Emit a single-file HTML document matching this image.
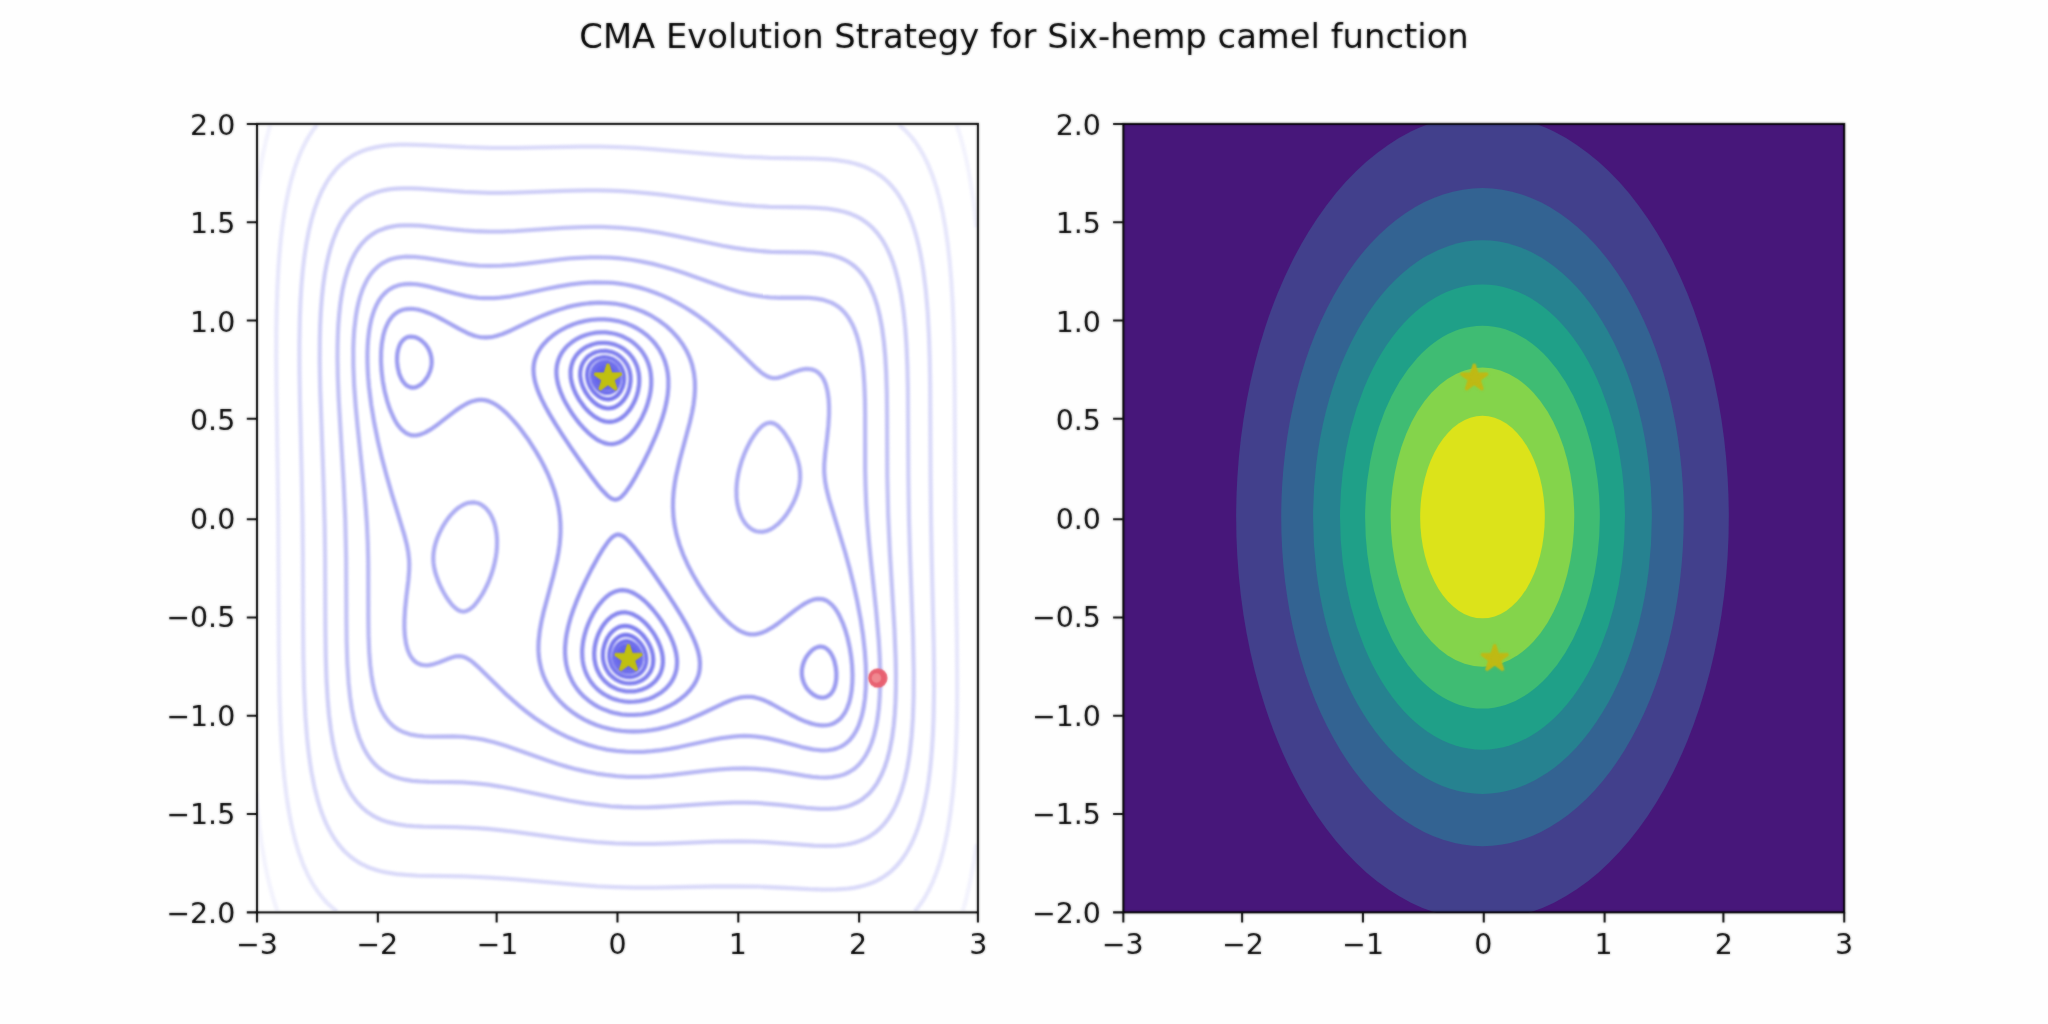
<!DOCTYPE html>
<html lang="en"><head><meta charset="utf-8"><title>CMA Evolution Strategy for Six-hemp camel function</title>
<style>html,body{margin:0;padding:0;background:#fefefe;overflow:hidden}body{width:2048px;height:1024px}</style></head>
<body>
<svg width="2048" height="1024" viewBox="0 0 720 360" style="display:block">
<defs>
<clipPath id="c1"><rect x="90" y="43.2" width="253.636" height="277.2"/></clipPath>
<clipPath id="c2"><rect x="394.920" y="43.560" width="253.440" height="277.200"/></clipPath>
<filter id="bl" filterUnits="userSpaceOnUse" x="0" y="0" width="720" height="360" color-interpolation-filters="sRGB"><feGaussianBlur stdDeviation="0.31"/></filter>
<filter id="mx" filterUnits="userSpaceOnUse" x="0" y="0" width="720" height="360" color-interpolation-filters="sRGB"><feGaussianBlur stdDeviation="0.31" result="b"/><feComposite in="SourceGraphic" in2="b" operator="arithmetic" k1="0" k2="0.5" k3="0.5" k4="0"/></filter>
</defs>
<rect width="720" height="360" fill="#fefefe"/>
<rect x="90" y="43.2" width="253.636" height="277.2" fill="#ffffff"/>
<g clip-path="url(#c1)"><g filter="url(#bl)" fill="none" stroke-width="1.5" stroke-linejoin="round">
<path stroke="#0909ea" d="M220.62 231.06 220.62 230.96ZM213.01 132.64 213.01 132.54Z"/>
<path stroke="#1212ea" d="M220.62 231.22 220.49 231.00 220.62 230.85 220.75 231.00ZM213.01 132.75 212.89 132.60 213.01 132.38 213.15 132.60Z"/>
<path stroke="#1b1bea" d="M220.62 231.38 220.39 231.00 220.62 230.74 220.84 231.00ZM213.01 132.86 212.79 132.60 213.01 132.22 213.25 132.60Z"/>
<path stroke="#2323ea" d="M220.62 231.53 220.29 231.00 220.62 230.63 220.94 231.00ZM213.01 132.97 212.70 132.60 213.01 132.07 213.35 132.60Z"/>
<path stroke="#2c2cea" d="M220.20 231.06 220.20 230.97 220.62 230.52 221.03 231.00 220.62 231.69ZM213.01 133.08 212.61 132.60 213.01 131.91 213.46 132.60Z"/>
<path stroke="#3434ea" d="M220.62 231.92 220.29 231.70 219.99 231.00 220.20 230.67 220.62 230.41 221.05 230.75 221.21 231.00 221.05 231.70ZM212.59 132.85 212.43 132.60 212.59 131.90 213.01 131.68 213.35 131.90 213.64 132.60 213.44 132.93 213.01 133.19Z"/>
<path stroke="#3d3dea" d="M220.20 231.94 219.99 231.70 219.81 231.00 220.20 230.36 220.62 230.27 221.05 230.45 221.40 231.00 221.33 231.70 221.05 232.02 220.62 232.15ZM213.01 133.33 212.59 133.15 212.23 132.60 212.31 131.90 212.59 131.58 213.01 131.45 213.44 131.66 213.65 131.90 213.83 132.60 213.44 133.24Z"/>
<path stroke="#4545eb" d="M219.78 231.85 219.67 231.70 219.52 231.00 219.80 230.31 220.20 229.98 220.62 229.91 221.05 230.08 221.47 230.56 221.68 231.00 221.65 231.70 221.47 231.99 221.05 232.34 220.62 232.39 220.20 232.28ZM212.59 133.52 212.17 133.04 211.95 132.60 211.99 131.90 212.17 131.61 212.59 131.26 213.01 131.21 213.44 131.32 213.96 131.90 214.11 132.60 213.84 133.29 213.44 133.62 213.01 133.69Z"/>
<path stroke="#4d4deb" d="M219.78 232.42 219.28 231.70 219.16 231.00 219.33 230.31 219.78 229.74 220.20 229.54 220.62 229.51 221.05 229.64 221.47 229.92 221.78 230.31 222.05 231.00 222.04 231.70 221.89 232.04 221.68 232.39 221.47 232.59 221.05 232.80 220.62 232.83 220.20 232.72ZM213.01 134.09 212.59 133.96 212.17 133.68 211.86 133.29 211.58 132.60 211.59 131.90 211.96 131.21 212.17 131.01 212.59 130.80 213.01 130.77 213.44 130.88 213.89 131.21 214.36 131.90 214.48 132.60 214.31 133.29 213.86 133.86 213.44 134.06Z"/>
<path stroke="#5555eb" d="M220.20 233.27 219.78 233.06 219.35 232.72 219.09 232.39 218.76 231.70 218.66 231.00 218.76 230.31 219.11 229.62 219.35 229.34 219.78 229.06 220.20 228.94 220.62 228.93 221.05 229.02 221.47 229.24 221.89 229.62 222.35 230.31 222.56 231.00 222.57 231.70 222.34 232.39 221.89 232.95 221.70 233.08 221.47 233.22 221.05 233.35 220.62 233.37ZM212.17 134.36 211.75 133.98 211.29 133.29 211.07 132.60 211.07 131.90 211.29 131.21 211.75 130.65 211.94 130.52 212.17 130.38 212.59 130.25 213.01 130.23 213.44 130.33 213.86 130.54 214.28 130.88 214.55 131.21 214.70 131.52 214.88 131.90 214.98 132.60 214.88 133.29 214.53 133.98 214.28 134.26 213.86 134.54 213.44 134.66 213.01 134.67 212.59 134.58Z"/>
<path stroke="#5e5eeb" d="M219.78 233.85 219.35 233.62 218.93 233.26 218.32 232.39 218.08 231.70 217.99 231.00 218.05 230.31 218.26 229.62 218.51 229.17 218.93 228.67 219.35 228.37 219.78 228.19 220.20 228.11 220.62 228.12 221.47 228.37 221.89 228.64 222.31 229.03 222.74 229.60 223.08 230.31 223.24 231.00 223.27 231.70 223.12 232.39 222.78 233.08 222.31 233.57 222.01 233.77 221.47 234.01 221.05 234.09 220.20 234.01ZM212.59 135.39 212.17 135.23 211.75 134.96 211.32 134.57 210.89 133.98 210.56 133.29 210.39 132.60 210.37 131.90 210.51 131.21 210.86 130.52 211.32 130.03 211.75 129.76 212.17 129.59 213.01 129.51 213.44 129.59 213.86 129.75 214.28 129.98 214.87 130.52 215.32 131.21 215.55 131.90 215.65 132.60 215.59 133.29 215.38 133.98 215.13 134.43 214.70 134.93 214.28 135.23 213.86 135.41 213.44 135.49 213.01 135.48Z"/>
<path stroke="#6666ec" d="M219.35 234.70 218.51 234.12 218.17 233.77 217.67 233.08 217.35 232.39 217.16 231.70 217.08 231.00 217.11 230.31 217.24 229.62 217.50 228.92 217.92 228.23 218.51 227.62 218.93 227.33 219.78 227.02 220.20 226.98 221.05 227.07 221.47 227.22 222.31 227.71 222.88 228.23 223.42 228.92 223.79 229.62 224.04 230.31 224.18 231.00 224.21 231.70 224.12 232.39 223.90 233.08 223.50 233.77 222.79 234.47 222.31 234.76 221.89 234.92 221.05 235.06 220.20 234.99ZM211.75 136.17 211.32 135.89 210.76 135.37 210.22 134.68 209.84 133.98 209.60 133.29 209.46 132.60 209.43 131.90 209.51 131.21 209.73 130.52 210.05 129.95 210.48 129.44 210.90 129.09 211.32 128.84 212.17 128.58 212.59 128.54 213.44 128.61 214.28 128.90 214.70 129.16 215.47 129.82 215.96 130.52 216.29 131.21 216.48 131.90 216.56 132.60 216.53 133.29 216.39 133.98 216.14 134.68 215.72 135.37 215.13 135.98 214.70 136.27 214.28 136.46 213.44 136.62 212.59 136.53Z"/>
<path stroke="#6f6fec" d="M218.93 235.87 218.09 235.36 217.24 234.56 216.67 233.77 216.33 233.08 216.08 232.39 215.93 231.70 215.86 231.00 215.95 229.62 216.11 228.92 216.36 228.23 216.72 227.54 217.22 226.84 217.66 226.40 218.51 225.82 219.35 225.51 220.20 225.42 221.05 225.52 221.89 225.81 222.74 226.31 223.58 227.05 224.43 228.14 224.85 228.92 225.14 229.62 225.33 230.31 225.45 231.00 225.49 231.70 225.44 232.39 225.30 233.08 225.05 233.77 224.66 234.47 224.00 235.21 223.16 235.81 222.31 236.17 221.89 236.27 221.05 236.35 219.78 236.19ZM213.01 138.15 212.17 137.96 211.32 137.56 210.48 136.95 210.05 136.55 209.21 135.46 208.78 134.68 208.50 133.98 208.18 132.60 208.15 131.90 208.19 131.21 208.34 130.52 208.59 129.82 208.98 129.13 209.63 128.39 210.48 127.79 211.32 127.43 212.17 127.27 213.44 127.32 214.28 127.55 215.13 127.96 215.97 128.60 216.48 129.13 216.82 129.60 217.31 130.52 217.55 131.21 217.78 132.60 217.77 133.29 217.53 134.68 217.28 135.37 216.92 136.06 216.40 136.78 215.55 137.53 214.70 137.97 213.86 138.16Z"/>
<path stroke="#7777ed" d="M220.20 237.97 218.93 237.66 217.66 237.05 216.82 236.44 215.97 235.59 215.20 234.47 214.85 233.77 214.40 232.39 214.21 231.00 214.24 229.62 214.50 228.23 215.01 226.84 215.38 226.15 215.85 225.46 216.82 224.43 217.66 223.84 218.51 223.46 219.78 223.22 221.05 223.33 222.31 223.77 223.58 224.56 224.85 225.77 225.66 226.84 226.08 227.54 226.71 228.92 227.09 230.31 227.24 231.70 227.13 233.08 226.72 234.47 226.12 235.53 225.70 236.06 225.21 236.55 224.00 237.36 222.74 237.84 221.47 238.03ZM212.59 140.27 211.32 139.83 210.48 139.34 209.21 138.29 208.36 137.31 207.56 136.06 206.93 134.68 206.55 133.29 206.40 131.90 206.51 130.52 206.67 129.82 206.92 129.13 207.27 128.44 207.94 127.54 208.79 126.76 209.41 126.36 210.05 126.04 211.32 125.67 212.59 125.56 213.86 125.71 215.13 126.11 216.40 126.83 217.43 127.75 218.00 128.44 218.44 129.13 219.05 130.52 219.36 131.90 219.44 133.29 219.29 134.68 218.91 136.06 218.26 137.45 217.79 138.14 217.24 138.78 216.40 139.49 215.97 139.76 215.13 140.14 213.86 140.38Z"/>
<path stroke="#8080ee" d="M219.35 240.03 218.51 239.81 217.66 239.49 216.40 238.82 215.13 237.85 214.52 237.24 213.95 236.55 213.08 235.16 212.50 233.77 212.14 232.39 212.03 231.70 211.95 230.31 212.03 228.92 212.13 228.23 212.59 226.40 213.26 224.77 213.64 224.07 214.28 223.12 214.70 222.59 215.55 221.73 216.82 220.82 218.09 220.28 218.93 220.10 219.78 220.04 220.62 220.10 221.47 220.28 222.31 220.59 223.16 221.00 224.00 221.53 224.85 222.19 225.70 222.98 226.54 223.94 227.39 225.10 228.02 226.15 228.38 226.84 228.96 228.23 229.36 229.62 229.50 230.31 229.65 231.70 229.65 232.39 229.50 233.77 229.33 234.47 228.80 235.85 228.40 236.55 227.90 237.24 227.26 237.93 226.54 238.54 225.70 239.10 224.85 239.53 224.00 239.84 223.16 240.06 222.31 240.19 221.47 240.25 220.20 240.18ZM211.32 143.01 210.48 142.60 209.63 142.07 208.36 141.03 206.99 139.53 205.83 137.82 204.95 136.06 204.68 135.37 204.27 133.98 204.04 132.60 203.99 131.90 204.03 130.52 204.30 129.13 204.54 128.44 204.98 127.49 205.83 126.26 206.38 125.67 207.10 125.06 208.36 124.27 209.63 123.76 211.32 123.41 213.01 123.38 214.70 123.67 215.55 123.94 216.40 124.31 217.24 124.78 218.09 125.39 219.35 126.63 220.16 127.75 220.56 128.44 221.14 129.82 221.34 130.52 221.60 131.90 221.67 132.60 221.67 133.98 221.37 136.06 220.96 137.45 220.62 138.30 220.20 139.16 219.54 140.22 218.93 141.01 218.09 141.87 217.24 142.52 216.40 142.99 215.55 143.32 214.70 143.50 213.86 143.56 213.01 143.50 212.17 143.32Z"/>
<path stroke="#8888ee" d="M218.93 242.83 217.66 242.50 216.82 242.20 215.55 241.62 214.70 241.13 213.86 240.54 213.01 239.83 212.17 238.98 211.33 237.93 210.86 237.24 210.12 235.85 209.83 235.16 209.37 233.77 208.98 231.70 208.89 229.62 209.07 227.54 209.33 226.15 209.70 224.77 210.19 223.38 210.81 221.99 211.57 220.61 212.17 219.70 213.01 218.62 213.86 217.73 214.70 217.00 215.55 216.41 216.40 215.96 217.24 215.62 218.09 215.40 219.35 215.28 220.20 215.33 221.47 215.59 222.74 216.06 224.00 216.74 225.27 217.63 226.12 218.34 227.39 219.59 228.27 220.61 229.32 221.99 230.35 223.58 231.35 225.46 231.94 226.84 232.41 228.23 232.77 229.62 232.98 231.00 233.06 232.39 232.98 233.77 232.72 235.16 232.25 236.55 231.92 237.24 231.19 238.42 230.48 239.32 229.79 240.01 228.95 240.70 227.81 241.46 226.54 242.09 225.27 242.55 224.00 242.86 222.74 243.05 221.47 243.10 220.20 243.03ZM211.75 147.88 210.90 147.54 209.63 146.86 208.36 145.97 207.52 145.26 206.25 144.01 205.40 143.04 203.84 140.91 203.01 139.53 202.29 138.14 201.70 136.75 201.22 135.37 200.87 133.98 200.65 132.60 200.60 130.52 200.66 129.82 200.92 128.44 201.39 127.05 201.72 126.36 202.59 124.97 203.29 124.14 204.14 123.33 204.98 122.68 205.83 122.14 206.67 121.70 207.94 121.18 208.79 120.93 210.05 120.66 211.32 120.52 212.59 120.51 213.86 120.62 215.13 120.87 216.40 121.24 217.66 121.77 218.93 122.47 219.78 123.06 220.62 123.77 221.47 124.62 222.31 125.67 223.16 127.03 223.58 127.90 224.06 129.13 224.56 131.21 224.71 132.60 224.74 133.98 224.66 135.37 224.31 137.45 223.94 138.83 223.45 140.22 222.83 141.61 222.06 142.99 221.11 144.38 220.20 145.45 219.35 146.25 218.09 147.19 217.24 147.64 215.97 148.10 215.13 148.27 213.86 148.31 212.59 148.13Z"/>
<path stroke="#9292ef" d="M217.66 246.27 215.97 245.79 214.70 245.30 213.44 244.70 212.17 243.95 210.90 243.04 209.80 242.09 208.79 241.04 207.95 240.01 207.46 239.32 206.64 237.93 205.99 236.55 205.49 235.16 205.12 233.77 204.87 232.39 204.72 231.00 204.67 228.92 204.75 227.54 205.02 225.46 205.47 223.38 206.07 221.30 206.85 219.22 207.52 217.70 208.52 215.76 209.63 213.94 210.48 212.75 211.75 211.21 213.01 209.96 214.28 208.98 215.13 208.46 216.40 207.90 217.66 207.58 218.93 207.49 220.20 207.63 221.05 207.84 221.89 208.14 223.16 208.75 224.85 209.83 226.54 211.21 227.81 212.43 229.50 214.27 231.19 216.38 232.71 218.53 234.15 220.84 235.51 223.38 236.43 225.46 237.17 227.54 237.70 229.62 237.99 231.70 238.03 233.08 237.84 235.16 237.51 236.55 237.00 237.93 236.28 239.32 235.31 240.70 234.15 241.99 232.88 243.09 231.61 243.98 229.92 244.92 228.23 245.63 226.54 246.15 224.85 246.51 223.16 246.70 221.05 246.73 219.35 246.58ZM212.17 155.62 210.90 155.08 209.63 154.35 207.94 153.11 206.67 151.99 204.98 150.28 203.71 148.83 202.45 147.22 201.18 145.45 200.04 143.68 198.84 141.61 198.13 140.22 197.21 138.14 196.47 136.06 196.09 134.68 195.71 132.60 195.61 131.21 195.63 129.82 195.80 128.44 196.13 127.05 196.64 125.67 197.36 124.28 197.81 123.59 198.91 122.20 199.91 121.22 201.18 120.19 202.33 119.43 203.71 118.68 204.98 118.13 206.25 117.69 207.94 117.25 209.63 116.97 211.32 116.86 213.01 116.89 214.70 117.08 216.40 117.43 218.09 117.96 219.35 118.49 221.05 119.38 222.31 120.23 223.84 121.51 225.14 122.89 226.12 124.20 226.99 125.67 227.64 127.05 228.14 128.44 228.52 129.82 228.77 131.21 228.96 133.29 228.94 135.37 228.73 137.45 228.34 139.53 227.56 142.30 226.79 144.38 225.70 146.76 224.43 149.00 223.16 150.85 221.89 152.39 220.62 153.64 219.35 154.62 218.51 155.14 217.66 155.54 216.40 155.94 215.13 156.10 213.86 156.04 213.01 155.88Z"/>
<path stroke="#9b9bf0" d="M218.51 251.12 216.40 250.73 214.28 250.16 212.17 249.38 210.48 248.58 208.79 247.62 207.10 246.44 205.40 245.02 204.14 243.73 202.79 242.09 201.85 240.70 201.06 239.32 200.12 237.24 199.64 235.85 199.11 233.77 198.79 231.70 198.65 229.62 198.66 227.54 198.91 224.77 199.24 222.69 199.85 219.91 200.62 217.14 201.55 214.37 202.59 211.60 204.14 207.93 205.83 204.29 207.94 200.09 210.05 196.23 212.17 192.73 213.86 190.33 215.13 188.94 215.97 188.31 216.82 187.98 217.24 187.93 217.66 187.96 218.51 188.24 218.93 188.47 219.78 189.08 221.05 190.29 223.16 192.72 226.12 196.57 229.50 201.26 233.73 207.40 237.11 212.56 239.22 215.96 241.13 219.22 242.61 221.99 243.92 224.77 244.75 226.84 245.42 228.92 245.88 231.00 246.09 233.08 246.00 235.16 245.76 236.55 245.57 237.24 245.35 237.93 244.76 239.32 243.97 240.70 242.60 242.55 241.06 244.17 239.43 245.56 237.53 246.90 235.42 248.12 232.88 249.28 230.77 250.04 228.23 250.72 225.70 251.15 223.16 251.36 220.62 251.33ZM287.41 244.97 286.15 244.34 285.00 243.48 284.03 242.45 283.28 241.40 282.57 240.01 282.13 238.63 281.90 237.24 281.89 235.85 281.96 235.16 282.24 233.77 282.73 232.39 283.45 231.00 284.45 229.62 285.30 228.75 285.96 228.23 286.57 227.85 287.41 227.50 288.26 227.33 288.68 227.33 289.53 227.48 289.95 227.64 290.86 228.23 291.54 228.92 292.06 229.62 292.80 231.00 293.33 232.42 293.81 234.47 294.04 236.55 294.01 238.63 293.75 240.35 293.33 241.80 292.91 242.74 292.49 243.42 291.84 244.17 290.87 244.86 289.95 245.19 289.53 245.26 288.68 245.26ZM215.97 175.64 215.13 175.36 214.70 175.13 213.44 174.14 211.75 172.39 210.05 170.36 207.52 167.03 204.14 162.34 200.75 157.45 197.37 152.36 195.26 149.03 193.30 145.76 191.75 142.99 190.35 140.22 189.42 138.14 188.64 136.06 188.04 133.98 187.66 131.90 187.54 129.82 187.63 128.44 187.88 127.05 188.06 126.36 188.56 124.97 189.25 123.59 190.13 122.20 191.23 120.82 192.58 119.43 194.20 118.04 195.68 116.98 197.37 115.94 199.49 114.86 201.60 113.99 203.71 113.31 205.83 112.79 207.94 112.45 210.48 112.24 212.59 112.25 214.70 112.43 217.24 112.87 219.78 113.58 221.89 114.41 224.00 115.48 225.86 116.66 227.64 118.04 229.09 119.43 230.35 120.86 231.79 122.89 232.92 124.97 233.77 127.05 234.37 129.13 234.76 131.21 234.96 133.29 234.97 136.06 234.73 138.83 234.26 141.61 233.61 144.38 232.79 147.15 231.61 150.53 230.35 153.71 228.23 158.43 226.12 162.70 223.58 167.37 221.47 170.87 219.78 173.27 218.51 174.66 217.66 175.29 217.24 175.49 216.40 175.67ZM144.11 136.12 143.26 135.72 142.84 135.42 142.09 134.68 141.57 133.98 141.17 133.29 140.73 132.34 140.30 131.18 139.82 129.13 139.60 127.05 139.59 125.67 139.70 124.28 139.96 122.89 140.42 121.51 140.75 120.82 141.15 120.18 142.00 119.25 142.77 118.74 143.69 118.41 144.53 118.32 145.80 118.50 147.07 119.01 147.76 119.43 148.34 119.87 149.18 120.66 149.60 121.15 150.36 122.20 150.75 122.89 151.30 124.22 151.65 125.67 151.77 127.05 151.72 128.05 151.56 129.13 151.18 130.52 150.58 131.90 150.19 132.60 149.19 133.98 148.53 134.68 147.91 135.20 147.49 135.50 146.65 135.95 146.22 136.10 145.38 136.27 144.53 136.23Z"/>
<path stroke="#a5a5f1" d="M216.40 256.66 214.28 256.25 211.75 255.58 209.63 254.87 207.52 254.01 205.40 252.98 203.29 251.77 201.26 250.41 199.49 249.03 197.92 247.63 196.56 246.25 195.26 244.75 193.80 242.78 192.92 241.40 191.81 239.32 190.93 237.24 190.26 235.16 189.65 232.39 189.46 231.00 189.31 228.92 189.29 227.54 189.36 225.46 189.73 221.99 190.34 218.53 191.12 215.06 194.49 202.59 195.80 197.05 196.32 194.27 196.72 191.50 196.97 188.73 197.06 186.65 197.02 183.88 196.79 181.11 196.38 178.33 195.77 175.56 194.84 172.34 193.74 169.33 192.57 166.55 191.03 163.40 189.76 161.04 188.54 158.93 185.96 154.90 183.37 151.31 181.73 149.25 180.46 147.78 177.93 145.14 176.66 144.00 175.39 143.00 174.12 142.15 173.28 141.68 172.01 141.12 171.16 140.85 170.32 140.67 169.47 140.58 168.63 140.57 167.78 140.65 166.09 141.06 165.25 141.36 163.98 141.95 162.29 142.92 160.17 144.36 154.25 148.95 151.72 150.77 149.60 152.01 147.91 152.71 146.65 153.02 145.80 153.09 144.95 153.04 144.11 152.86 143.26 152.53 142.42 152.04 141.15 150.97 139.88 149.43 139.04 148.11 138.52 147.15 137.35 144.57 136.76 142.99 136.10 140.91 135.23 137.52 134.57 133.98 134.15 130.52 133.94 127.05 133.99 123.59 134.23 120.82 134.72 118.04 135.09 116.66 135.56 115.27 136.50 113.26 137.47 111.81 138.19 110.98 138.81 110.42 139.46 109.93 140.30 109.43 141.15 109.07 142.00 108.81 142.84 108.65 144.11 108.55 144.95 108.57 146.22 108.72 147.49 108.97 148.76 109.32 150.87 110.09 153.41 111.24 155.82 112.50 161.44 115.65 164.40 117.13 166.09 117.81 167.36 118.20 168.63 118.48 170.32 118.65 171.59 118.62 173.28 118.40 174.97 117.97 176.66 117.40 179.62 116.16 186.80 112.74 189.76 111.40 193.15 110.02 196.10 108.97 199.06 108.08 201.60 107.47 204.56 106.92 207.10 106.61 210.48 106.43 213.86 106.53 216.82 106.87 218.51 107.17 220.20 107.55 223.16 108.43 226.12 109.59 229.08 111.08 231.61 112.66 234.16 114.58 236.26 116.50 238.29 118.74 239.84 120.82 241.11 122.89 241.82 124.28 242.44 125.67 242.95 127.05 243.38 128.44 243.98 131.21 244.29 133.98 244.34 136.75 244.16 139.53 243.81 142.30 243.30 145.07 242.51 148.54 238.97 161.70 237.69 167.25 237.20 170.02 236.84 172.79 236.63 175.56 236.58 178.33 236.77 181.80 237.14 184.57 237.86 188.04 238.88 191.50 240.17 194.97 241.72 198.43 243.51 201.90 245.52 205.36 247.77 208.83 250.21 212.22 252.75 215.34 254.86 217.63 256.98 219.60 259.09 221.18 259.94 221.69 261.20 222.31 262.05 222.62 262.90 222.85 263.74 222.99 264.59 223.03 265.43 223.00 266.28 222.87 267.97 222.40 269.66 221.65 271.35 220.68 273.46 219.24 279.38 214.65 281.92 212.83 283.19 212.05 284.45 211.39 285.72 210.89 286.57 210.66 287.84 210.51 289.10 210.63 290.37 211.07 291.22 211.56 292.49 212.63 293.33 213.60 294.18 214.80 295.02 216.26 296.29 219.03 297.14 221.37 297.98 224.30 298.70 227.54 299.25 230.93 299.55 233.77 299.71 237.24 299.65 240.01 299.40 242.78 299.06 244.86 298.55 246.94 297.79 249.02 297.14 250.34 296.71 251.04 295.87 252.16 295.45 252.62 294.60 253.36 293.33 254.17 292.49 254.53 291.64 254.79 290.80 254.95 289.53 255.05 288.68 255.03 287.41 254.88 285.30 254.40 283.19 253.68 280.48 252.49 277.81 251.10 271.35 247.50 269.66 246.66 268.39 246.11 267.12 245.65 265.43 245.20 264.16 245.01 262.47 244.96 261.20 245.07 259.94 245.29 258.25 245.76 256.98 246.20 254.02 247.44 246.32 251.10 242.18 252.91 237.95 254.49 235.84 255.16 233.73 255.74 231.19 256.31 229.08 256.68 226.96 256.95 224.85 257.11 222.74 257.17 220.62 257.12 218.51 256.95Z"/>
<path stroke="#aeaef3" d="M220.20 264.27 216.82 263.99 213.44 263.51 210.05 262.80 206.67 261.87 203.29 260.70 199.91 259.30 196.53 257.65 193.47 255.95 191.03 254.44 188.14 252.49 185.34 250.41 182.74 248.33 180.32 246.25 177.29 243.48 167.78 234.15 166.09 232.70 165.25 232.07 163.98 231.32 163.13 230.98 162.29 230.75 161.44 230.67 160.17 230.77 158.48 231.23 154.25 232.91 152.56 233.46 150.87 233.81 150.03 233.88 149.18 233.86 148.34 233.74 147.49 233.48 146.65 233.08 146.22 232.80 145.72 232.39 145.06 231.70 144.53 230.99 144.11 230.27 143.69 229.38 143.26 228.26 142.72 226.15 142.32 223.38 142.17 220.61 142.19 217.84 142.42 214.01 142.84 209.92 143.56 203.98 143.84 200.51 143.88 198.43 143.83 197.05 143.55 194.27 143.03 191.50 142.15 188.04 137.77 173.68 136.08 167.86 134.39 161.51 132.95 155.47 131.54 148.54 130.51 142.30 129.73 136.06 129.43 132.60 129.27 129.82 129.18 127.05 129.17 124.28 129.27 121.51 129.41 119.43 129.72 116.66 130.06 114.58 130.50 112.50 131.00 110.69 131.58 109.03 132.27 107.41 133.12 105.84 133.96 104.58 134.88 103.49 136.08 102.36 136.92 101.74 138.19 101.02 139.88 100.36 140.73 100.14 142.00 99.93 144.11 99.81 146.65 99.98 148.76 100.31 150.87 100.76 160.17 103.24 163.98 104.09 166.09 104.44 168.20 104.69 169.90 104.80 172.01 104.85 173.70 104.80 175.81 104.65 179.62 104.16 183.85 103.36 192.30 101.50 196.53 100.65 200.75 99.96 204.56 99.51 207.10 99.34 209.21 99.26 213.44 99.33 215.55 99.48 217.66 99.71 219.78 100.02 221.89 100.42 224.85 101.12 227.39 101.87 230.35 102.90 232.88 103.93 235.84 105.30 238.38 106.63 240.91 108.10 243.48 109.73 245.49 111.11 248.30 113.19 252.53 116.66 257.08 120.82 265.85 129.45 267.55 130.90 268.39 131.53 269.66 132.28 270.50 132.62 271.35 132.85 272.20 132.93 273.46 132.83 275.15 132.37 279.38 130.69 281.07 130.14 282.76 129.79 283.61 129.72 284.45 129.74 285.30 129.86 286.15 130.12 286.99 130.52 287.41 130.80 287.92 131.21 288.58 131.90 289.10 132.61 289.53 133.33 289.95 134.22 290.37 135.34 290.91 137.45 291.31 140.22 291.46 142.99 291.45 145.76 291.22 149.59 290.80 153.68 290.08 159.62 289.80 163.09 289.76 165.17 289.80 166.55 290.09 169.33 290.61 172.10 291.48 175.56 297.14 194.24 298.83 200.44 300.10 205.55 301.36 211.30 302.59 217.84 303.42 223.38 304.03 228.92 304.37 233.77 304.47 237.93 304.37 242.09 304.09 245.56 303.58 249.02 302.95 251.79 302.06 254.56 301.48 255.95 300.94 257.02 299.89 258.72 298.83 260.04 297.98 260.88 296.71 261.86 295.45 262.58 294.18 263.10 292.91 263.46 291.22 263.72 289.95 263.79 288.68 263.77 287.41 263.67 285.72 263.44 281.92 262.64 273.89 260.47 270.08 259.60 267.97 259.22 265.85 258.96 263.74 258.80 261.63 258.75 259.94 258.80 257.82 258.95 253.60 259.51 249.37 260.32 238.80 262.63 235.42 263.25 232.46 263.70 229.08 264.09 226.12 264.29 223.16 264.35ZM161.02 214.45 161.86 214.83 162.71 214.99 163.55 214.92 164.40 214.63 165.25 214.14 166.09 213.45 166.94 212.59 168.20 211.00 169.47 209.06 170.32 207.56 171.16 205.85 172.01 203.91 172.76 201.90 173.41 199.82 173.93 197.74 174.33 195.66 174.55 194.15 174.71 192.19 174.74 190.12 174.67 188.73 174.53 187.34 174.15 185.26 173.77 183.88 173.28 182.54 172.59 181.11 172.01 180.15 171.16 179.06 170.44 178.33 169.47 177.60 168.63 177.14 167.78 176.83 166.94 176.66 166.09 176.61 164.82 176.75 163.98 176.98 162.71 177.53 161.44 178.31 160.60 178.96 159.75 179.72 158.44 181.11 157.34 182.49 156.39 183.88 155.56 185.26 154.50 187.34 153.64 189.42 153.18 190.81 152.81 192.19 152.54 193.58 152.38 194.97 152.33 196.35 152.39 197.74 152.57 199.12 152.84 200.51 153.21 201.90 154.21 204.67 155.10 206.64 155.88 208.13 156.79 209.70 157.64 210.98 158.48 212.11 159.33 213.07 160.17 213.86ZM265.85 186.77 266.70 186.94 267.97 186.97 269.24 186.74 270.08 186.46 271.13 185.96 272.23 185.26 273.46 184.27 274.73 183.01 275.76 181.80 276.78 180.41 277.67 179.03 278.81 176.95 279.45 175.56 280.24 173.48 280.83 171.40 281.09 170.02 281.26 168.63 281.31 167.25 281.24 165.86 281.07 164.47 280.80 163.09 280.20 161.01 279.70 159.62 278.96 157.86 278.13 156.16 277.27 154.60 276.05 152.69 275.15 151.49 273.89 150.11 273.04 149.42 272.20 148.93 271.35 148.66 270.50 148.62 269.66 148.80 268.81 149.19 267.97 149.78 267.12 150.56 266.28 151.50 265.01 153.20 264.16 154.54 263.32 156.04 262.47 157.75 261.63 159.69 260.88 161.70 260.36 163.33 259.86 165.17 259.51 166.75 259.20 168.63 259.03 170.02 258.90 172.10 258.96 174.87 259.11 176.26 259.34 177.64 259.67 179.03 260.11 180.41 260.69 181.80 261.20 182.77 261.93 183.88 262.50 184.57 263.32 185.37 264.16 186.00 265.01 186.46Z"/>
<path stroke="#b9b9f4" d="M287.84 273.29 285.72 273.11 283.19 272.78 273.89 271.22 270.08 270.68 265.85 270.27 261.63 270.11 257.40 270.19 253.17 270.47 248.52 270.96 236.26 272.44 232.46 272.80 228.65 273.04 224.43 273.15 220.62 273.09 216.82 272.86 213.01 272.45 209.63 271.94 206.25 271.29 202.87 270.51 199.49 269.60 196.10 268.57 192.72 267.45 181.31 263.37 177.50 262.08 173.70 260.95 169.90 260.04 166.51 259.46 163.13 259.09 159.33 258.92 152.14 258.93 149.18 258.86 146.65 258.63 144.11 258.15 142.00 257.46 140.73 256.88 139.88 256.40 139.04 255.83 138.19 255.17 137.35 254.39 136.50 253.47 135.23 251.77 134.05 249.71 133.12 247.63 132.38 245.56 131.61 242.78 131.02 240.01 130.57 237.24 130.15 233.77 129.78 228.92 129.57 223.38 129.49 217.14 129.46 197.74 129.29 190.81 129.01 184.57 128.58 178.33 127.98 171.40 125.78 150.61 125.06 142.99 124.50 135.37 124.22 128.44 124.21 122.20 124.35 118.74 124.54 115.96 125.11 111.11 125.59 108.34 126.06 106.26 126.63 104.18 127.34 102.10 128.05 100.39 128.89 98.69 129.74 97.28 130.58 96.09 131.43 95.09 132.70 93.85 133.64 93.10 134.81 92.34 136.08 91.68 137.35 91.18 138.61 90.81 139.88 90.54 141.15 90.37 142.84 90.25 145.80 90.31 149.18 90.65 152.14 91.09 160.17 92.45 164.40 93.02 168.20 93.35 172.01 93.49 176.24 93.41 180.89 93.09 185.11 92.64 196.95 91.20 200.33 90.87 203.71 90.62 207.52 90.47 210.90 90.45 214.70 90.59 218.09 90.86 221.89 91.32 225.70 91.97 229.50 92.78 233.30 93.77 236.69 94.76 240.49 96.00 252.33 100.23 256.13 101.52 259.94 102.65 263.74 103.56 267.12 104.14 270.50 104.51 274.31 104.68 281.50 104.67 284.45 104.74 286.99 104.97 289.53 105.45 291.64 106.14 292.91 106.72 293.75 107.20 294.60 107.77 295.45 108.43 296.29 109.21 297.14 110.13 298.40 111.83 299.58 113.89 300.51 115.96 301.25 118.04 302.03 120.82 302.62 123.59 303.16 127.05 303.55 130.52 303.89 135.37 304.09 140.91 304.15 146.46 304.16 165.17 304.30 171.40 304.52 176.95 304.90 183.19 305.46 190.12 306.15 197.05 308.06 215.06 308.96 225.46 309.28 231.00 309.43 235.85 309.44 240.70 309.29 244.86 308.97 249.02 308.53 252.49 308.04 255.26 307.28 258.45 306.44 261.12 305.42 263.57 304.32 265.64 303.05 267.51 301.79 268.96 300.94 269.75 300.10 270.43 298.40 271.50 296.71 272.27 294.60 272.89 292.49 273.23 290.37 273.36Z"/>
<path stroke="#c3c3f5" d="M288.26 284.37 283.61 284.03 274.31 282.99 270.08 282.58 265.85 282.30 262.05 282.18 257.82 282.18 253.17 282.33 248.52 282.59 235.42 283.50 231.19 283.71 227.39 283.82 223.16 283.83 218.93 283.71 214.70 283.45 210.90 283.09 205.83 282.44 200.33 281.52 194.84 280.44 180.04 277.29 175.81 276.51 171.59 275.87 167.36 275.40 162.71 275.09 158.90 274.96 150.87 274.86 147.49 274.73 144.95 274.50 142.42 274.12 140.30 273.62 138.61 273.08 136.92 272.36 135.65 271.69 134.39 270.88 133.01 269.81 131.85 268.72 130.58 267.28 129.74 266.15 128.96 264.96 127.62 262.51 126.35 259.53 125.39 256.64 124.48 253.18 123.66 249.02 123.06 244.86 122.55 240.01 122.11 233.08 121.87 225.46 121.78 218.53 121.69 196.35 121.38 182.49 120.79 169.33 119.07 140.22 118.77 132.60 118.65 125.67 118.68 121.51 118.79 117.35 118.97 113.89 119.25 110.42 119.63 106.96 120.03 104.18 120.53 101.41 121.28 98.18 122.13 95.29 122.92 93.10 123.82 91.02 124.66 89.38 125.93 87.33 127.20 85.67 128.47 84.32 129.74 83.21 131.00 82.29 132.27 81.54 133.54 80.93 135.23 80.30 136.50 79.94 138.19 79.59 139.88 79.36 142.00 79.22 144.53 79.20 147.49 79.35 150.87 79.65 159.33 80.61 163.13 80.98 167.78 81.30 172.01 81.43 176.24 81.41 180.89 81.25 197.80 80.12 204.56 79.82 208.36 79.76 211.75 79.79 215.13 79.91 218.51 80.12 224.85 80.76 231.61 81.77 238.38 83.07 254.02 86.40 258.25 87.16 262.47 87.78 266.70 88.23 270.93 88.51 274.73 88.64 282.76 88.74 285.72 88.85 288.68 89.10 291.22 89.48 293.33 89.98 295.02 90.52 296.71 91.24 297.98 91.91 299.25 92.72 300.62 93.79 301.79 94.88 303.05 96.32 303.90 97.45 304.68 98.64 306.01 101.09 307.33 104.18 308.45 107.65 309.31 111.11 310.09 115.27 310.74 120.12 311.19 124.97 311.56 131.21 311.77 138.14 311.85 145.07 311.94 167.25 312.25 181.11 312.85 194.27 314.46 221.30 314.88 231.70 314.98 237.24 314.96 242.09 314.81 246.94 314.57 251.10 314.18 255.26 313.61 259.42 312.81 263.57 311.93 266.95 310.98 269.81 309.82 272.58 308.55 274.96 307.70 276.27 306.86 277.41 306.01 278.41 305.17 279.28 303.48 280.72 302.63 281.31 301.36 282.06 299.25 283.01 297.98 283.43 296.71 283.76 294.18 284.20 291.22 284.40Z"/>
<path stroke="#cfcff7" d="M280.23 296.87 269.24 296.08 264.59 295.88 259.94 295.80 251.48 295.91 236.26 296.50 229.92 296.67 223.16 296.68 216.40 296.47 209.63 296.03 202.87 295.36 196.53 294.57 180.46 292.37 175.81 291.82 171.59 291.42 167.78 291.14 163.98 290.95 159.75 290.82 148.76 290.63 145.38 290.46 142.84 290.24 139.46 289.74 136.50 289.04 133.96 288.16 132.70 287.60 131.43 286.94 129.31 285.58 128.05 284.57 127.20 283.81 125.51 282.01 123.82 279.77 122.97 278.44 122.13 276.94 120.72 273.97 119.42 270.50 118.20 266.35 117.12 261.49 116.32 256.64 115.64 251.10 115.17 245.56 114.77 238.63 114.53 231.00 114.39 220.61 114.29 195.66 114.14 184.57 113.73 169.33 112.57 136.75 112.40 127.75 112.43 119.43 112.55 114.58 112.78 109.73 113.14 104.88 113.57 100.72 114.15 96.56 114.77 93.10 115.55 89.63 116.30 86.86 117.22 84.09 118.32 81.31 119.59 78.71 120.86 76.57 122.13 74.79 123.82 72.84 125.51 71.29 127.20 70.04 128.47 69.27 130.16 68.43 131.85 67.76 133.54 67.25 135.23 66.86 137.35 66.52 139.46 66.31 141.57 66.21 144.53 66.21 147.49 66.32 163.13 67.45 167.78 67.67 172.01 67.78 176.24 67.80 180.89 67.72 198.22 67.07 205.83 66.91 210.05 66.92 214.28 67.01 218.51 67.19 222.31 67.44 227.39 67.88 232.46 68.44 252.75 71.18 256.98 71.68 261.20 72.11 265.85 72.46 270.50 72.69 283.19 72.93 286.99 73.06 290.80 73.36 294.18 73.86 296.71 74.44 298.83 75.11 300.94 76.00 303.05 77.16 305.17 78.67 306.86 80.20 308.48 82.01 309.82 83.83 310.66 85.16 311.61 86.86 312.35 88.37 313.20 90.33 313.98 92.40 314.66 94.48 315.77 98.64 316.77 103.49 317.60 109.03 318.25 115.27 318.69 121.51 318.99 128.44 319.18 136.75 319.35 167.94 319.57 182.49 319.95 195.66 320.97 223.38 321.24 236.55 321.20 244.86 320.94 252.49 320.50 258.72 319.80 264.96 319.00 269.81 318.09 273.97 316.90 278.13 315.61 281.59 314.89 283.22 314.05 284.89 313.20 286.36 312.35 287.66 311.19 289.21 310.24 290.31 309.27 291.29 308.13 292.31 307.28 292.97 306.01 293.83 304.75 294.56 303.48 295.17 302.21 295.68 300.52 296.23 299.25 296.56 297.56 296.89 295.87 297.13 294.18 297.29 290.37 297.40 286.15 297.28Z"/>
<path stroke="#dadaf9" d="M275.15 312.10 266.70 311.74 258.67 311.61 251.06 311.66 229.92 312.05 223.16 312.03 216.40 311.87 210.05 311.58 203.29 311.12 181.31 309.17 172.43 308.52 163.13 308.12 146.65 307.81 142.84 307.61 139.46 307.29 137.35 306.99 135.23 306.60 133.54 306.21 131.85 305.72 130.16 305.13 128.89 304.61 127.20 303.79 125.93 303.07 124.66 302.25 123.40 301.30 122.13 300.22 120.86 298.99 119.59 297.56 118.75 296.50 117.52 294.76 116.63 293.32 115.79 291.81 114.84 289.91 114.10 288.21 113.25 286.07 112.42 283.67 111.79 281.59 110.55 276.74 109.46 271.20 108.64 265.65 107.95 259.42 107.36 251.79 106.91 242.09 106.66 231.00 106.56 220.61 106.47 194.97 106.35 182.49 106.09 167.94 105.46 140.91 105.29 130.52 105.26 120.82 105.42 111.81 105.66 105.57 106.01 100.03 106.43 95.17 107.00 90.32 107.73 85.47 108.53 81.31 109.53 77.16 110.55 73.69 111.80 70.23 113.01 67.45 114.52 64.57 116.21 61.95 117.90 59.80 119.59 58.03 121.70 56.25 123.82 54.84 125.51 53.93 127.62 53.02 129.74 52.32 132.27 51.70 134.81 51.28 137.35 51.02 140.30 50.86 143.26 50.83 149.18 51.00 163.98 51.75 172.43 51.97 181.73 51.96 204.14 51.55 210.90 51.58 217.24 51.73 223.58 52.02 230.35 52.48 252.75 54.47 261.63 55.11 270.50 55.48 286.15 55.76 291.64 56.06 294.18 56.31 296.29 56.61 298.40 57.00 300.10 57.39 301.79 57.88 303.48 58.47 305.17 59.18 306.86 60.04 308.55 61.07 309.82 61.97 311.09 63.00 312.35 64.18 313.62 65.54 314.89 67.10 316.11 68.84 317.00 70.28 318.12 72.31 319.11 74.38 319.96 76.43 320.75 78.54 321.43 80.62 322.24 83.39 322.93 86.17 323.53 88.94 324.05 91.71 324.61 95.17 325.48 102.10 326.14 109.73 326.59 118.04 326.86 126.36 327.02 135.37 327.16 167.94 327.31 182.49 327.54 195.66 328.25 226.15 328.36 234.47 328.38 242.09 328.20 252.49 328.01 257.34 327.73 262.19 327.40 266.35 326.98 270.50 326.45 274.66 325.91 278.13 324.80 283.67 324.19 286.13 323.52 288.52 322.85 290.60 322.08 292.76 321.23 294.82 320.29 296.84 319.18 298.92 318.27 300.41 317.40 301.69 316.16 303.30 314.89 304.72 313.62 305.96 312.35 307.03 311.09 307.96 309.82 308.76 308.13 309.67 306.86 310.24 305.17 310.88 303.48 311.40 301.79 311.81 300.10 312.13 297.98 312.42 294.18 312.71 289.53 312.76 284.45 312.60Z"/>
<path stroke="#e7e7fb" d="M118.46 320.40 117.05 319.30 115.94 318.32 114.94 317.35 113.67 315.97 111.70 313.47 109.87 310.64 108.18 307.50 106.52 303.77 105.02 299.61 103.78 295.45 102.60 290.60 101.65 285.75 100.77 280.21 100.00 273.97 99.41 267.73 98.92 260.80 98.55 253.18 98.28 244.86 98.03 228.23 97.82 180.41 97.23 138.83 97.13 125.67 97.15 116.66 97.29 108.34 97.54 100.72 97.91 93.79 98.27 88.94 98.66 84.78 99.13 80.62 99.59 77.16 100.25 73.00 100.90 69.53 101.67 66.07 102.37 63.30 103.38 59.83 104.32 57.06 105.22 54.72 106.32 52.21 107.36 50.13 108.60 47.94 109.88 45.97 111.45 43.89M316.08 43.89 317.43 45.04 318.70 46.25 320.81 48.64 321.93 50.13 322.88 51.52 324.61 54.45 326.30 57.91 327.90 61.91 329.26 66.06 330.39 70.23 331.47 75.08 332.34 79.93 333.15 85.47 333.85 91.71 334.44 98.64 334.87 105.57 335.19 113.19 335.44 122.20 335.62 137.45 335.81 181.80 336.41 225.46 336.51 239.32 336.47 248.33 336.31 256.64 336.03 264.27 335.63 271.20 335.24 276.05 334.83 280.21 334.33 284.36 333.84 287.83 333.14 291.99 332.44 295.45 331.63 298.92 330.89 301.69 330.04 304.46 329.06 307.23 327.94 310.00 326.73 312.60 325.46 314.95 324.22 316.94 322.92 318.77 321.60 320.40"/>
<path stroke="#f3f3fd" d="M97.57 320.40 96.18 316.24 95.01 312.08 93.86 307.23 92.90 302.38 91.99 296.84 91.24 291.29 90.56 285.06 90.00 278.53M343.21 296.83 342.33 303.07 341.21 309.31 339.97 314.86 339.24 317.63 338.43 320.40M90.00 70.36 90.99 62.60 92.11 55.90 92.71 52.90 93.50 49.44 94.99 43.89M336.32 43.89 337.45 47.36 338.56 51.28 339.62 55.67 340.48 59.83 341.33 64.68 342.04 69.53 342.64 74.38 343.21 80.01"/>
</g></g>
<g clip-path="url(#c2)"><g>
<rect x="391.364" y="40.2" width="259.636" height="283.2" fill="#47177a"/>
<ellipse cx="521.182" cy="181.800" rx="86.598" ry="141.646" fill="#42408c"/>
<ellipse cx="521.182" cy="181.800" rx="70.754" ry="115.671" fill="#336392"/>
<ellipse cx="521.182" cy="181.800" rx="59.547" ry="97.299" fill="#268290"/>
<ellipse cx="521.182" cy="181.800" rx="50.082" ry="81.782" fill="#1fa088"/>
<ellipse cx="521.182" cy="181.800" rx="41.254" ry="67.310" fill="#3fbc73"/>
<ellipse cx="521.182" cy="181.800" rx="32.269" ry="52.580" fill="#84d44b"/>
<ellipse cx="521.182" cy="181.800" rx="21.908" ry="35.596" fill="#dce31a"/>
</g></g>
<g filter="url(#mx)">
<path transform="translate(213.730 132.920) scale(0.99)" d="M0 -5L-1.12257 -1.545085L-4.755283 -1.545085L-1.816356 .59017L-2.938926 4.045085L0 1.90983L2.938926 4.045085L1.816356 .59017L4.755283 -1.545085L1.12257 -1.545085Z" fill="#c0c010" stroke="#c0c010" stroke-width="1" stroke-linejoin="bevel"/>
<path transform="translate(220.930 231.560) scale(0.99)" d="M0 -5L-1.12257 -1.545085L-4.755283 -1.545085L-1.816356 .59017L-2.938926 4.045085L0 1.90983L2.938926 4.045085L1.816356 .59017L4.755283 -1.545085L1.12257 -1.545085Z" fill="#c0c010" stroke="#c0c010" stroke-width="1" stroke-linejoin="bevel"/>
<path transform="translate(518.290 132.920) scale(0.99)" d="M0 -5L-1.12257 -1.545085L-4.755283 -1.545085L-1.816356 .59017L-2.938926 4.045085L0 1.90983L2.938926 4.045085L1.816356 .59017L4.755283 -1.545085L1.12257 -1.545085Z" fill="#bfb914" stroke="#bfb914" stroke-width="1" stroke-linejoin="bevel"/>
<path transform="translate(525.490 231.560) scale(0.99)" d="M0 -5L-1.12257 -1.545085L-4.755283 -1.545085L-1.816356 .59017L-2.938926 4.045085L0 1.90983L2.938926 4.045085L1.816356 .59017L4.755283 -1.545085L1.12257 -1.545085Z" fill="#bfb914" stroke="#bfb914" stroke-width="1" stroke-linejoin="bevel"/>
<circle cx="308.600" cy="238.376" r="3.4" fill="#e86070"/>
<circle cx="308.100" cy="238.376" r="1.7" fill="#f08890"/>
</g>
<g filter="url(#mx)" stroke="#000000" stroke-width="0.72" fill="none">
<rect x="90.360" y="43.560" width="253.440" height="277.200"/>
<path d="M90.360 320.760v3.6M132.840 320.760v3.6M174.600 320.760v3.6M217.080 320.760v3.6M259.560 320.760v3.6M302.040 320.760v3.6M343.800 320.760v3.6M90.360 320.760h-3.6M90.360 286.200h-3.6M90.360 251.640h-3.6M90.360 217.080h-3.6M90.360 182.520h-3.6M90.360 147.240h-3.6M90.360 112.680h-3.6M90.360 78.120h-3.6M90.360 43.560h-3.6"/>
<rect x="394.920" y="43.560" width="253.440" height="277.200"/>
<path d="M394.920 320.760v3.6M436.680 320.760v3.6M479.160 320.760v3.6M521.640 320.760v3.6M564.120 320.760v3.6M605.880 320.760v3.6M648.360 320.760v3.6M394.920 320.760h-3.6M394.920 286.200h-3.6M394.920 251.640h-3.6M394.920 217.080h-3.6M394.920 182.520h-3.6M394.920 147.240h-3.6M394.920 112.680h-3.6M394.920 78.120h-3.6M394.920 43.560h-3.6"/>
</g>
<g filter="url(#mx)" fill="#000000" style="font-family:'DejaVu Sans','Liberation Sans',sans-serif">
<g style="font-size:10px">
<text x="90.300" y="335.298" text-anchor="middle">−3</text>
<text x="132.573" y="335.298" text-anchor="middle">−2</text>
<text x="174.845" y="335.298" text-anchor="middle">−1</text>
<text x="217.118" y="335.298" text-anchor="middle">0</text>
<text x="259.391" y="335.298" text-anchor="middle">1</text>
<text x="301.664" y="335.298" text-anchor="middle">2</text>
<text x="343.936" y="335.298" text-anchor="middle">3</text>
<text x="82.700" y="324.499" text-anchor="end">−2.0</text>
<text x="82.700" y="289.849" text-anchor="end">−1.5</text>
<text x="82.700" y="255.199" text-anchor="end">−1.0</text>
<text x="82.700" y="220.549" text-anchor="end">−0.5</text>
<text x="82.700" y="185.899" text-anchor="end">0.0</text>
<text x="82.700" y="151.249" text-anchor="end">0.5</text>
<text x="82.700" y="116.599" text-anchor="end">1.0</text>
<text x="82.700" y="81.949" text-anchor="end">1.5</text>
<text x="82.700" y="47.299" text-anchor="end">2.0</text>
<text x="394.664" y="335.298" text-anchor="middle">−3</text>
<text x="436.936" y="335.298" text-anchor="middle">−2</text>
<text x="479.209" y="335.298" text-anchor="middle">−1</text>
<text x="521.482" y="335.298" text-anchor="middle">0</text>
<text x="563.755" y="335.298" text-anchor="middle">1</text>
<text x="606.027" y="335.298" text-anchor="middle">2</text>
<text x="648.300" y="335.298" text-anchor="middle">3</text>
<text x="387.064" y="324.499" text-anchor="end">−2.0</text>
<text x="387.064" y="289.849" text-anchor="end">−1.5</text>
<text x="387.064" y="255.199" text-anchor="end">−1.0</text>
<text x="387.064" y="220.549" text-anchor="end">−0.5</text>
<text x="387.064" y="185.899" text-anchor="end">0.0</text>
<text x="387.064" y="151.249" text-anchor="end">0.5</text>
<text x="387.064" y="116.599" text-anchor="end">1.0</text>
<text x="387.064" y="81.949" text-anchor="end">1.5</text>
<text x="387.064" y="47.299" text-anchor="end">2.0</text>
</g>
<text x="360.030" y="17.000" text-anchor="middle" textLength="312.7" lengthAdjust="spacingAndGlyphs" style="font-size:12px">CMA Evolution Strategy for Six-hemp camel function</text>
</g>
</svg>
</body></html>
